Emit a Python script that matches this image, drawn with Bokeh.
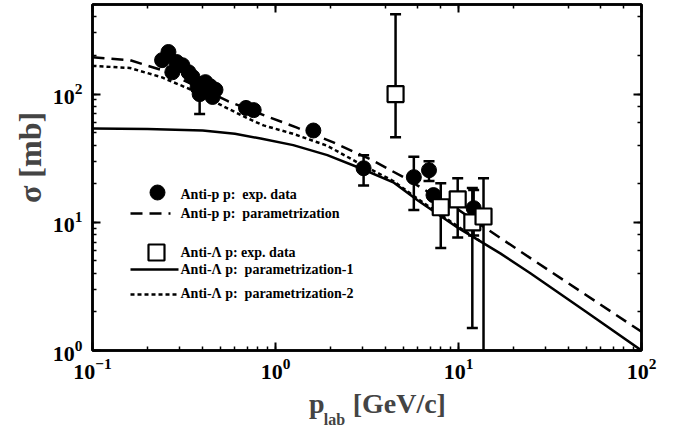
import numpy as np
from bokeh.plotting import figure
from bokeh.models import LogAxis, Label, CustomJSTickFormatter, FixedTicker
from bokeh.embed import file_html
from bokeh.resources import INLINE

# ---------------- data ----------------
# Anti-p p experimental data
pbar_p_plab = [0.24, 0.26, 0.273, 0.288, 0.31, 0.335, 0.352, 0.375, 0.385, 0.414,
               0.44, 0.453, 0.47, 0.69, 0.76, 1.61, 3.03, 5.7, 6.9, 7.3, 12.1]
pbar_p_sigma = [184, 213, 148, 178, 168, 148, 136, 113, 100, 124,
                115, 95, 108, 78, 75, 52, 26.4, 22.5, 25.5, 16.3, 12.9]
pbar_p_err = [0, 0, 0, 0, 0, 0, 0, 0, 30, 0,
              0, 0, 0, 0, 0, 0, 7, 10, 4.5, 0, 5]

# Anti-Lambda p experimental data
lbar_p_plab = [4.53, 8.0, 9.9, 11.9, 13.7]
lbar_p_sigma = [100, 13.1, 15.1, 10.0, 11.1]
lbar_p_err_lo = [54, 6.8, 7.5, 8.5, 11.0]
lbar_p_err_hi = [320, 7.1, 7.0, 8.5, 11.0]

# Anti-p p parametrization
pbar_param_plab = [0.1, 0.16, 0.235, 0.34, 0.55, 0.9, 1.3, 2.07, 3.3, 5.0, 10, 25, 100]
pbar_param_sigma = [194, 184, 155, 122, 88, 67, 55, 42, 31, 22.5, 12.5, 5.2, 1.4]

# Anti-Lambda p parametrization-1
lam1_plab = [0.1, 0.2, 0.4, 0.6, 0.83, 1.25, 1.92, 2.91, 4.4, 6.0, 10, 17, 24.7, 50, 100]
lam1_sigma = [54, 53.5, 52, 49, 45, 40, 33.4, 26.4, 20.5, 14.8, 9.0, 5.7, 4.0, 2.0, 1.0]

# Anti-Lambda p parametrization-2
lam2_plab = [0.1, 0.16, 0.24, 0.375, 0.48, 0.7, 0.86, 1.25, 1.92, 2.91, 4.4, 6.0, 10, 13]
lam2_sigma = [166, 160, 135, 103, 85, 65, 57, 49, 39.5, 28.5, 21, 15.2, 9.2, 7.2]

NB = "\u00a0"
legend_labels = ["Anti-p p:" + NB + " exp. data",
                 "Anti-p p:" + NB + " parametrization",
                 "Anti-\u039b p: exp. data",
                 "Anti-\u039b p:" + NB + " parametrization-1",
                 "Anti-\u039b p:" + NB + " parametrization-2"]
x_title_main = NB * 3 + "p" + NB * 4 + "[GeV/c]"
x_title_sub = "lab"
y_title = NB * 5 + "\u03c3 [mb]"

# ---------------- layout ----------------
FONT = "Liberation Serif"
X_RANGE = (0.1, 100)
Y_RANGE = (1, 500)
FW, FH = 549, 346
BL, BR, BT, BB = 92, 36, 4, 80

p = figure(width=BL + FW + BR, height=BT + FH + BB,
           x_axis_type="log", y_axis_type="log",
           x_range=X_RANGE, y_range=Y_RANGE,
           output_backend="svg", toolbar_location=None,
           min_border_left=BL, min_border_right=BR,
           min_border_top=BT, min_border_bottom=BB)
p.grid.visible = False
p.outline_line_color = "black"
p.outline_line_width = 2.5
p.background_fill_color = "white"
p.border_fill_color = "white"

def style_axis(ax, labels=True):
    ax.axis_line_width = 2.5
    ax.axis_line_color = "black"
    ax.major_tick_in = 8
    ax.major_tick_out = 0
    ax.minor_tick_in = 4
    ax.minor_tick_out = 0
    ax.major_tick_line_width = 2
    ax.minor_tick_line_width = 1.5
    ax.major_label_text_font = FONT
    ax.major_label_text_font_style = "bold"
    ax.major_label_text_font_size = "22px"
    ax.major_label_text_color = "black"
    if not labels:
        ax.formatter = CustomJSTickFormatter(code="return ''")
        ax.major_label_standoff = 0
        ax.major_label_text_font_size = "0px"

for ax in p.xaxis + p.yaxis:
    style_axis(ax)
p.xaxis.major_label_standoff = 8
p.yaxis.major_label_standoff = 10

p.yaxis.axis_label = y_title
p.yaxis.axis_label_text_font = FONT
p.yaxis.axis_label_text_font_style = "bold"
p.yaxis.axis_label_text_font_size = "32px"
p.yaxis.axis_label_standoff = 2

p.xaxis.axis_label = x_title_main
p.xaxis.axis_label_text_font = FONT
p.xaxis.axis_label_text_font_style = "bold"
p.xaxis.axis_label_text_font_size = "28px"
p.xaxis.axis_label_standoff = 6

top = LogAxis()
style_axis(top, labels=False)
p.add_layout(top, "above")
right = LogAxis()
style_axis(right, labels=False)
p.add_layout(right, "right")

LX = np.log10(X_RANGE[1] / X_RANGE[0])
LY = np.log10(Y_RANGE[1] / Y_RANGE[0])

def fx(px):  # pixel offset from frame left -> data x
    return X_RANGE[0] * 10 ** (px / FW * LX)

def fy(py):  # pixel offset from frame top -> data y
    return Y_RANGE[1] / 10 ** (py / FH * LY)

# subscript of the x title, drawn as a tick label of an extra bare axis
sub_axis = LogAxis(ticker=FixedTicker(ticks=[fx(242)], minor_ticks=[]),
                   formatter=CustomJSTickFormatter(code="return 'lab'"))
sub_axis.axis_line_color = None
sub_axis.major_tick_line_color = None
sub_axis.minor_tick_line_color = None
sub_axis.major_label_text_font = FONT
sub_axis.major_label_text_font_style = "bold"
sub_axis.major_label_text_font_size = "16px"
sub_axis.major_label_standoff = -17
p.add_layout(sub_axis, "below")

# ---------------- curves ----------------
p.line(lam2_plab, lam2_sigma, line_color="black", line_width=2.5, line_dash="4 3")
p.line(lam1_plab, lam1_sigma, line_color="black", line_width=2.5)
p.line(pbar_param_plab, pbar_param_sigma, line_color="black", line_width=2.5, line_dash="12 7")

# ---------------- error bars ----------------
def add_errors(xs, ys, lo, hi):
    bx, b0, b1 = [], [], []
    for x, y, l, h in zip(xs, ys, lo, hi):
        if l > 0 or h > 0:
            bx.append(x)
            b0.append(max(y - l, 0.1))
            b1.append(y + h)
    p.segment(x0=bx, y0=b0, x1=bx, y1=b1, line_color="black", line_width=2.5)
    p.scatter(bx + bx, b0 + b1, marker="dash", size=11, line_color="black", line_width=2.5)

add_errors(pbar_p_plab, pbar_p_sigma, pbar_p_err, pbar_p_err)
add_errors(lbar_p_plab, lbar_p_sigma, lbar_p_err_lo, lbar_p_err_hi)

# ---------------- data points ----------------
p.scatter(pbar_p_plab, pbar_p_sigma, marker="circle", size=15,
          fill_color="black", line_color="black")
p.scatter(lbar_p_plab, lbar_p_sigma, marker="square", size=16,
          fill_color="white", line_color="black", line_width=2.2)

# ---------------- legend (drawn by hand) ----------------
p.scatter([fx(65)], [fy(188)], marker="circle", size=15, fill_color="black", line_color="black")
p.line([fx(38), fx(78)], [fy(209), fy(209)], line_color="black", line_width=2.5, line_dash="12 7")
p.scatter([fx(64)], [fy(248)], marker="square", size=16, fill_color="white",
          line_color="black", line_width=2.2)
p.line([fx(38), fx(86)], [fy(265), fy(265)], line_color="black", line_width=2.5)
p.line([fx(38), fx(86)], [fy(290), fy(290)], line_color="black", line_width=2.5, line_dash="4 3")

for txt, ty in zip(legend_labels, [190, 209, 248, 265, 289]):
    p.add_layout(Label(x=fx(88), y=fy(ty), text=txt,
                       text_font=FONT, text_font_style="bold", text_font_size="14px",
                       text_baseline="middle", text_color="black"))

open("out.html", "w").write(file_html(p, INLINE))
